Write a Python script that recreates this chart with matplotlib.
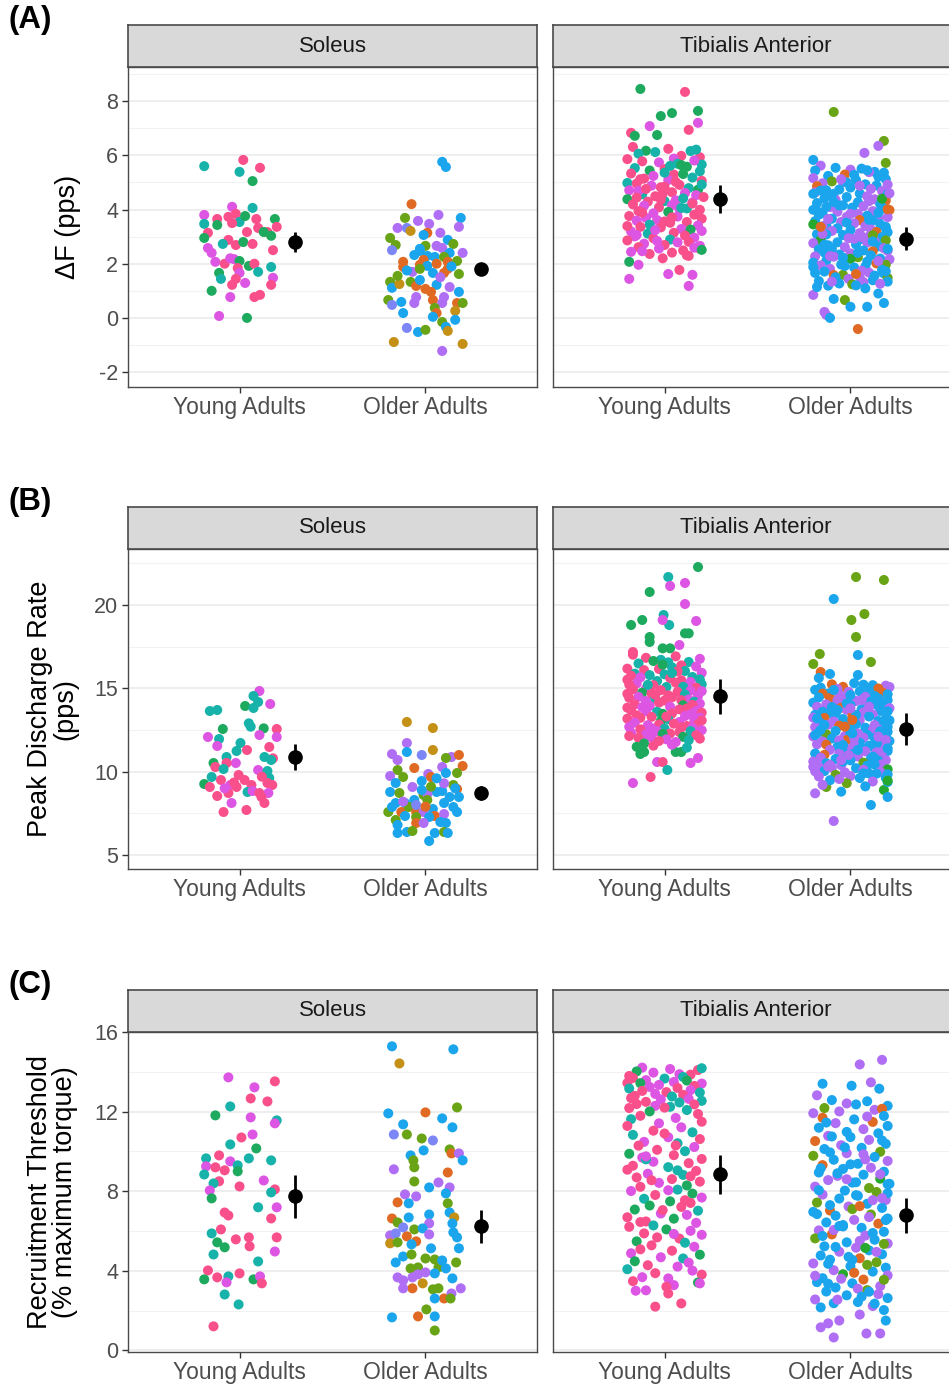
import matplotlib
matplotlib.use('Agg')
import matplotlib.pyplot as plt

plt.rcParams['font.family'] = ['Liberation Sans', 'DejaVu Sans']
plt.rcParams['axes.unicode_minus'] = False

# ---------------- labels ----------------
GROUPS = ['Young Adults', 'Older Adults']
MUSCLES = ['Soleus', 'Tibialis Anterior']
PANEL_TAGS = ['(A)', '(B)', '(C)']
YLABELS = ['ΔF (pps)', 'Peak Discharge Rate\n(pps)', 'Recruitment Threshold\n(% maximum torque)']

# participant colour codes
COLORS = {'p': '#F9508C', 'm': '#DD55E3', 'g': '#1DAA5E', 't': '#17B2A9',
          'b': '#1AA5EC', 'v': '#B06EF5', 'o': '#E06A24', 'l': '#69A416',
          'y': '#C49016', 'w': '#7D86F7', 'G': '#27A92F'}

# ================= (A) Delta F =================
DF_SOL_YA_Y = [5.6,5.83,5.54,5.39,5.05,4.1,4.06,3.8,3.47,3.65,
               3.43,3.73,3.84,3.54,3.76,3.5,3.65,3.32,3.65,3.36,
               3.17,3.03,3.17,3.17,3.14,2.95,2.88,2.73,2.69,2.8,
               2.73,2.58,2.4,2.5,2.07,2.0,2.2,2.17,2.1,1.84,
               1.92,2.0,1.7,1.88,1.66,1.44,1.66,1.44,1.29,1.22,
               1.48,1.22,1.0,0.77,0.77,0.85,0.07,0.0]
DF_SOL_YA_P = "tpptgmtmtp" "gpptgpppgp" "pggppgptpg" "pmmpmpmmgp" "gpttgtmpmp" "mpgmppmg"
DF_SOL_YA_J = [-0.19,0.02,0.11,0.0,0.07,-0.04,0.07,-0.19,-0.19,-0.12,
               -0.12,-0.06,-0.02,0.0,0.03,-0.04,0.09,0.1,0.19,0.2,
               0.15,0.17,0.13,0.04,-0.17,-0.19,-0.06,-0.09,-0.02,0.02,
               0.07,-0.17,-0.15,0.18,-0.13,-0.08,-0.05,-0.03,0.0,-0.01,
               0.05,0.08,0.1,0.17,-0.11,-0.1,0.0,-0.02,0.03,-0.04,
               0.18,0.17,-0.15,-0.05,0.08,0.11,-0.11,0.04]

DF_SOL_OA_Y = [5.76,5.57,4.2,3.69,3.58,3.8,3.69,3.47,3.32,3.32,
               3.21,3.36,3.14,3.14,3.06,2.95,2.69,2.5,2.88,2.73,
               2.66,2.58,2.66,2.32,2.47,2.4,2.4,2.25,2.25,2.29,
               2.07,1.88,2.14,1.96,1.92,2.07,2.1,1.7,1.66,1.81,
               1.81,1.66,1.62,1.33,1.11,1.25,1.33,1.18,1.4,1.22,
               1.14,1.07,0.96,0.96,0.66,0.48,0.59,0.77,0.55,0.66,
               0.77,0.55,0.55,0.55,0.18,0.37,0.18,0.04,0.26,-0.07,
               -0.15,-0.33,-0.48,-0.37,-0.52,-0.44,-0.89,-0.96,-1.22,2.55,
               1.5,1.9,2.0,1.55,1.75]
DF_SOL_OA_P = "bbolvvbvvw" "yvvobllwbl" "vvlbbbvblb" "oooobolvbl" "oollbylobb" "vooblwbvvo" "vvolblobyb" "lbywblyyvb" "vbolb"
DF_SOL_OA_J = [0.09,0.11,-0.075,-0.11,-0.04,0.07,0.19,0.02,-0.15,-0.1,
               -0.08,0.18,0.08,0.01,-0.01,-0.19,-0.16,-0.18,0.12,0.15,
               0.06,0.09,0.0,-0.06,-0.03,0.13,0.2,0.05,0.1,0.01,
               -0.12,-0.12,-0.01,-0.03,0.01,0.12,0.17,-0.07,0.04,-0.03,
               0.12,0.1,0.18,-0.19,-0.18,-0.14,-0.08,-0.05,-0.03,0.06,
               0.13,0.0,0.03,0.18,-0.2,-0.18,-0.13,-0.05,-0.06,0.04,
               0.1,0.09,0.17,0.2,-0.12,0.05,0.06,0.04,0.16,0.16,
               0.09,0.11,0.12,-0.1,-0.04,0.0,-0.17,0.2,0.09,-0.03,
               0.08,0.14,0.06,-0.15,-0.1]

DF_TA_YA_Y = [8.45,8.34,7.45,7.56,7.64,7.2,7.08,6.94,6.83,6.72,6.75,
              2.07,1.96,2.2,2.29,2.55,1.62,1.77,1.59,1.44,1.18,
              6.31,6.17,6.12,6.24,5.98,6.16,5.93,6.06,5.88,6.21,
              5.86,5.78,5.74,5.69,5.58,5.66,5.53,5.49,5.81,5.44,
              5.41,5.33,5.29,5.24,5.18,5.31,5.14,5.09,5.06,4.98,
              4.96,4.88,4.84,4.91,4.79,4.73,4.71,4.82,4.64,4.61,
              4.56,4.49,4.53,4.46,4.38,4.34,4.41,4.29,4.26,4.31,
              4.19,4.14,4.08,4.16,4.04,3.99,3.94,4.02,3.91,3.86,
              3.81,3.76,3.69,3.74,3.66,3.61,3.54,3.59,3.51,3.44,
              3.41,3.36,3.28,3.34,3.26,3.19,3.14,3.21,3.11,3.04,
              3.01,2.94,2.89,2.96,2.86,2.79,2.74,2.81,2.69,2.66,
              2.61,2.56,2.49,2.44,2.41,2.59,2.36,2.51,2.31,2.46,
              5.61,5.12,4.69,4.22,3.89,3.56,3.24,4.44,4.92,5.36,
              4.58,4.06,3.71,3.06,4.36,5.02,5.64,3.39,2.84,4.76]
DF_TA_YA_P = ("gpgggmmppgg" "gmpppmpmmm"
              "pgtpptptmt" "ppmtgttpmg" "tppmtgpmpt" "pmpptgmppm" "tpmpgmtpmt"
              "pmpmtppmgm" "ppmmpmpmpt" "mpmpgmpmtp" "mptmpmmppm" "pmpmpmpgpm"
              "tpmpppmptt" "ptpmppgpmp")
DF_TA_YA_J = [-0.13,0.11,-0.02,0.04,0.18,0.18,-0.08,0.13,-0.18,-0.16,-0.04,
              -0.19,-0.14,-0.01,0.13,0.19,0.02,0.08,0.15,-0.19,0.13,
              -0.17,-0.1,-0.05,0.02,0.09,0.14,0.19,-0.14,0.05,0.17,
              -0.2,-0.12,-0.03,0.07,0.12,0.2,-0.16,0.0,0.16,-0.08,
              0.19,-0.18,0.05,-0.06,0.15,0.1,-0.11,0.02,0.2,-0.2,
              -0.15,-0.07,0.0,0.08,0.13,0.18,-0.19,-0.02,0.04,0.11,
              -0.12,-0.05,0.17,0.21,-0.2,0.06,0.1,-0.09,0.15,0.0,
              -0.17,-0.11,-0.03,0.04,0.12,0.19,-0.14,0.08,0.02,-0.06,
              0.16,-0.19,-0.1,0.07,0.2,-0.04,0.12,-0.15,0.03,-0.08,
              0.18,-0.13,0.09,-0.02,0.14,-0.18,0.05,0.2,-0.09,0.11,
              -0.16,-0.06,0.03,0.16,-0.2,0.07,-0.11,0.13,0.0,0.19,
              -0.14,-0.03,0.1,-0.18,0.04,0.16,-0.08,0.2,0.12,-0.12,
              0.03,-0.13,-0.14,0.15,-0.12,0.0,-0.05,-0.15,0.2,0.0,
              -0.01,0.09,0.04,-0.15,-0.02,0.06,0.09,-0.2,-0.04,-0.1]

DF_TA_OA_Y = [7.6,6.53,6.35,5.72,6.09,5.83,
              0.7,0.66,0.41,0.22,0.11,0.0,0.41,0.55,-0.41,0.9,0.85,
              5.62,5.54,5.47,5.51,5.39,5.44,5.36,5.29,5.38,5.24,
              5.21,5.16,5.09,5.04,5.12,4.97,4.93,5.02,4.89,4.86,
              4.81,4.76,4.71,4.68,4.74,4.59,4.63,4.56,4.58,4.49,
              4.46,4.41,4.38,4.33,4.36,4.27,4.24,4.31,4.19,4.16,
              4.12,4.09,4.04,3.99,4.07,3.94,3.92,3.98,3.87,3.84,
              3.81,3.77,3.73,3.69,3.66,3.72,3.61,3.57,3.6,3.54,
              3.49,3.46,3.43,3.39,3.45,3.36,3.31,3.38,3.27,3.24,
              3.21,3.17,3.13,3.09,3.16,3.06,3.01,3.08,2.98,2.94,
              2.91,2.87,2.84,2.79,2.86,2.76,2.71,2.78,2.68,2.64,
              2.61,2.57,2.53,2.49,2.56,2.46,2.41,2.48,2.38,2.34,
              2.31,2.27,2.24,2.19,2.26,2.16,2.11,2.18,2.08,2.04,
              2.01,1.97,1.94,1.89,1.96,1.86,1.81,1.88,1.78,1.74,
              1.71,1.67,1.64,1.59,1.66,1.56,1.51,1.58,1.48,1.44,
              1.39,1.36,1.32,1.27,1.34,1.24,1.19,1.26,1.14,1.09,
              4.88,4.15,3.52,2.92,2.22,1.62,3.84,4.52,5.28,3.05,
              4.7,4.01,3.3,2.7,2.1,1.5,3.65,4.4,5.0,2.4,
              5.45,4.92,4.28,3.62,3.1,2.55,1.92,1.34,4.6,3.95,
              5.12,4.58,3.88,3.36,2.82,2.28,1.72,1.2,4.1,2.98]
DF_TA_OA_P = ("llvlvb" "blbvvbbbobv"
              "vbvbbbbovb" "bvblbvbvbo" "bvbvbbvbbv" "bbvovbbvbb" "vvbbbvvobv"
              "bbvvbvobbv" "vbbvGbbvvb" "vovbbbvbbv" "bGvblvbvbb" "vvbbbobvvb"
              "bvlbvvbGbb" "obvblbvbbv" "bvblbbvolv" "bbvbblbvbb" "vbbvbovbbl"
              "bobbvbvGbb" "bvbbvbbvvb" "vbbobvbbbv")
DF_TA_OA_J = [-0.09,0.18,0.15,0.19,0.075,-0.2,
              -0.09,-0.03,0.0,-0.14,-0.13,-0.11,0.09,0.18,0.04,0.15,-0.2,
              -0.16,-0.08,0.0,0.06,0.13,-0.19,0.18,-0.03,0.1,-0.12,
              0.15,-0.2,0.03,-0.1,0.19,-0.15,0.08,-0.04,0.14,-0.18,
              0.0,0.11,-0.13,0.17,-0.06,0.05,-0.19,0.2,-0.09,0.09,
              -0.02,-0.14,0.13,0.19,-0.08,0.04,-0.18,0.1,0.16,-0.04,
              0.07,-0.11,0.18,-0.2,0.01,0.12,-0.07,0.21,-0.15,0.04,
              -0.17,0.09,-0.02,0.15,-0.1,0.2,0.05,-0.19,0.12,-0.05,
              0.02,0.16,-0.13,0.08,-0.2,0.19,-0.07,-0.15,0.11,0.0,
              -0.1,0.14,0.05,-0.18,0.2,-0.04,0.1,-0.13,0.17,-0.01,
              0.06,-0.16,0.13,-0.07,0.19,-0.2,0.03,0.09,-0.12,0.15,
              -0.03,0.18,-0.17,0.07,-0.1,0.12,-0.14,0.2,0.0,-0.06,
              0.11,-0.19,0.04,0.16,-0.09,0.21,-0.13,0.0,0.09,-0.2,
              0.14,-0.05,-0.16,0.08,0.19,0.02,-0.11,-0.2,0.17,0.06,
              -0.14,0.1,0.18,-0.04,-0.19,0.13,0.05,-0.09,0.2,-0.01,
              0.12,-0.17,0.07,-0.06,0.2,0.01,-0.12,0.16,-0.18,0.08,
              0.05,-0.06,-0.02,0.02,-0.04,0.03,0.0,-0.1,0.02,0.12,
              -0.16,0.2,0.19,-0.14,0.15,-0.08,-0.12,0.17,-0.02,0.04,
              0.09,0.2,-0.09,0.1,-0.15,0.2,-0.03,-0.1,0.21,-0.18,
              -0.05,-0.2,0.15,-0.16,0.12,-0.11,0.19,0.03,-0.13,0.06]

DF_MEAN = [[2.80, 1.81], [4.39, 2.92]]
DF_ERR = [[0.36, 0.22], [0.50, 0.43]]

# ================= (B) Peak discharge rate =================
PDR_SOL_YA_Y = [14.84,14.54,14.18,14.06,13.64,13.7,13.94,13.82,12.9,12.7,
                12.6,12.56,12.56,12.08,12.2,12.08,11.96,11.54,11.72,11.24,
                11.3,11.48,10.8,10.88,10.88,10.52,10.52,10.52,10.28,10.16,
                10.1,10.04,9.68,9.62,9.8,9.5,9.26,9.08,9.5,9.2,
                9.08,9.2,9.32,9.2,8.72,8.78,8.84,8.72,8.72,8.54,
                8.48,8.12,8.12,7.58,7.7,10.7,9.35,9.0,9.7]
PDR_SOL_YA_P = "mttmttgttt" "ggpmmmtmtt" "pppttgmppt" "mtttppgppm" "ppppptmpmp" "pmppp" "tpmp"
PDR_SOL_YA_J = [0.107,0.075,0.1,0.165,-0.16,-0.12,0.03,0.075,0.05,0.06,
                0.13,-0.09,0.2,0.2,0.107,-0.17,-0.11,-0.12,0.005,-0.016,
                0.04,0.16,0.18,0.134,-0.07,-0.14,-0.02,-0.07,-0.13,-0.086,
                0.1,0.15,-0.15,0.16,-0.005,0.027,-0.19,-0.16,-0.1,-0.05,
                -0.016,0.064,0.15,0.176,-0.06,0.043,0.07,0.107,0.155,-0.12,
                0.118,-0.043,0.134,-0.086,0.037,0.17,-0.03,-0.08,0.12]

PDR_SOL_OA_Y = [12.98,12.62,11.3,11.72,11.18,11.06,11.0,10.88,11.0,10.82,
                10.7,10.34,10.1,10.22,9.86,10.28,9.92,9.92,9.74,9.68,
                9.32,9.44,9.68,9.2,8.96,8.78,8.72,9.08,8.78,8.84,
                8.48,8.48,8.6,8.66,8.3,8.3,8.12,8.12,8.12,7.58,
                7.58,7.88,7.88,7.58,7.58,7.76,7.34,7.46,7.88,7.58,
                7.28,7.1,7.34,7.28,6.92,6.92,6.98,6.92,6.8,6.32,
                6.38,6.44,6.32,6.38,6.32,5.84,8.0,9.3,9.6,8.9,
                9.1,8.2,9.0,7.9]
PDR_SOL_OA_P = "yyyvbvwvol" "volovvblvl" "bboloblvbb" "bblvblbbbo" "lblovbovbb" "llbbovbbbb" "blblbbwvbb" "lvbo"
PDR_SOL_OA_J = [-0.1,0.04,0.04,-0.1,-0.1,-0.18,-0.02,0.14,0.18,0.11,
                -0.15,0.2,-0.15,-0.06,0.015,0.09,0.11,0.17,-0.19,-0.12,
                -0.16,-0.02,0.03,0.15,0.17,-0.19,-0.14,-0.07,0.06,0.09,
                0.13,0.18,-0.01,0.01,-0.06,0.01,0.1,-0.16,-0.11,-0.13,
                -0.2,-0.18,-0.09,-0.05,-0.01,0.04,0.05,0.1,0.15,0.17,
                -0.05,-0.16,-0.11,0.02,-0.05,-0.01,0.08,0.11,-0.15,-0.15,
                -0.1,-0.07,0.05,0.1,0.12,0.02,-0.05,0.1,0.06,-0.02,
                0.03,-0.12,0.16,0.0]

PDR_TA_YA_Y = [22.28,21.68,21.14,21.32,20.78,20.06,18.8,19.1,19.4,18.8,
               19.1,19.04,18.08,17.78,18.3,18.3,17.6,17.4,17.4,17.18,
               11.06,11.18,10.58,10.58,10.52,10.82,10.1,9.68,9.32,11.18,11.18,
               17.02,16.83,16.71,16.92,16.58,16.77,16.49,16.56,16.38,16.64,
               16.31,16.18,16.26,16.09,16.04,16.16,15.93,15.88,16.02,15.84,
               15.79,15.68,15.76,15.61,15.53,15.66,15.49,15.44,15.38,15.52,
               15.34,15.29,15.24,15.19,15.13,15.23,15.08,15.04,14.98,15.09,
               14.94,14.89,14.86,14.79,14.74,14.83,14.69,14.63,14.58,14.67,
               14.54,14.49,14.46,14.39,14.33,14.43,14.29,14.24,14.19,14.27,
               14.14,14.08,14.04,13.98,13.94,14.01,13.89,13.84,13.79,13.87,
               13.74,13.69,13.64,13.59,13.54,13.63,13.49,13.44,13.38,13.47,
               13.34,13.29,13.24,13.18,13.14,13.23,13.09,13.04,12.98,13.07,
               12.94,12.88,12.84,12.79,12.74,12.83,12.69,12.64,12.58,12.67,
               12.54,12.49,12.44,12.38,12.34,12.43,12.29,12.24,12.19,12.27,
               12.14,12.09,12.04,11.98,11.94,12.03,11.89,11.84,11.78,11.69,
               11.62,11.49,11.44,11.56,15.92,14.61,13.31,12.61,16.42,15.21]
PDR_TA_YA_P = ("gtmmgmggtt" "mmggggmggp" "ggmpmmtpmgg"
               "pptptmttpg" "mptptpmtpt" "ttpptmptmp" "pmtpmptpmt" "ppmpgmptpp"
               "mmptmppmtp" "pmpgmpmppm" "ppmtpmpmpg" "mpmptpmgmp" "mppmppmmtp"
               "pmmpmtpmpg" "pgmpmptpmg" "mgtptppmgt")
PDR_TA_YA_J = [0.18,0.02,0.03,0.11,-0.08,0.11,-0.18,-0.12,-0.005,0.025,
               -0.01,0.17,-0.08,-0.08,0.11,0.13,0.08,-0.01,0.03,-0.17,
               -0.13,-0.11,-0.04,-0.01,0.14,0.18,0.015,-0.075,-0.17,0.06,0.09,
               -0.17,-0.1,-0.02,0.06,0.13,0.19,-0.14,0.02,0.09,-0.06,
               0.17,-0.2,0.04,-0.11,0.11,-0.03,0.2,-0.16,0.07,0.0,
               -0.08,0.15,-0.18,0.03,0.19,-0.13,0.09,-0.04,0.14,-0.2,
               0.06,-0.15,0.2,-0.06,0.12,-0.19,0.01,0.17,-0.1,0.1,
               -0.17,-0.02,0.14,0.07,-0.12,0.2,-0.07,0.11,0.02,-0.2,
               0.18,-0.14,0.04,-0.05,0.13,-0.19,0.09,-0.1,0.16,0.0,
               -0.03,0.19,-0.16,0.1,-0.08,0.15,0.03,-0.2,0.12,-0.12,
               0.08,-0.18,0.17,-0.04,0.2,-0.1,0.04,0.14,-0.15,-0.01,
               0.11,-0.07,0.19,-0.2,0.02,-0.13,0.16,-0.02,0.08,0.2,
               -0.16,0.05,0.18,-0.09,0.12,-0.03,-0.19,0.15,0.0,0.09,
               -0.13,0.2,-0.04,0.08,-0.18,0.14,0.03,-0.1,0.17,-0.01,
               -0.19,0.1,-0.07,0.19,0.01,-0.14,0.13,-0.03,0.06,-0.11,
               0.04,-0.15,0.12,-0.06,0.04,-0.05,0.01,-0.07,-0.01,-0.09]

PDR_TA_OA_Y = [21.68,21.5,20.36,19.1,19.46,18.08,17.0,17.06,16.46,16.58,15.8,15.98,15.62,15.86,
               9.08,8.0,7.04,8.9,8.48,9.38,8.7,8.8,
               15.31,15.24,15.19,15.16,15.09,15.22,15.04,14.99,14.96,15.08,
               14.91,14.84,14.79,14.76,14.69,14.82,14.64,14.61,14.54,14.68,
               14.49,14.46,14.39,14.36,14.29,14.42,14.24,14.21,14.14,14.28,
               14.11,14.04,13.99,13.96,13.89,14.02,13.84,13.81,13.74,13.88,
               13.71,13.64,13.59,13.56,13.49,13.62,13.44,13.41,13.34,13.48,
               13.31,13.24,13.19,13.16,13.09,13.22,13.04,13.01,12.94,13.08,
               12.91,12.84,12.79,12.76,12.69,12.82,12.64,12.61,12.54,12.68,
               12.51,12.44,12.39,12.36,12.29,12.42,12.24,12.21,12.14,12.28,
               12.11,12.04,11.99,11.96,11.89,12.02,11.84,11.81,11.74,11.88,
               11.71,11.64,11.59,11.56,11.49,11.62,11.44,11.41,11.34,11.48,
               11.31,11.24,11.19,11.16,11.09,11.22,11.04,11.01,10.94,11.08,
               10.91,10.84,10.79,10.76,10.69,10.82,10.64,10.61,10.54,10.68,
               10.51,10.44,10.39,10.36,10.29,10.42,10.24,10.21,10.14,10.28,
               10.11,10.04,9.99,9.96,9.89,10.02,9.84,9.81,9.74,9.88,
               9.71,9.62,9.49,9.41,9.31,9.63,9.21,9.46,9.12,9.56,
               14.1,13.4,12.7,12.0,11.3,10.6,13.8,12.3,11.0,14.6,
               14.3,13.2,12.1,11.6,10.9,10.3,12.9,13.7,11.2,12.5,
               14.9,13.9,12.8,11.9,10.7,9.9,13.1,12.2,11.4,10.4]
PDR_TA_OA_P = ("llblllblllbobb" "lbvGbbvb"
               "bobvobbovv" "bbvobbbvbo" "vbbvbovbbv" "bvbbvbovbb" "vbbvbbvbob"
               "bvbbvobvbb" "bbvobvbbvv" "vbbbvblbvb" "vvbbobbvbv" "bvvbbovbvb"
               "vbbvbvbobv" "vvbbvbbvlb" "bvvbvbvbGv" "vbvvbvblvb" "vbbvlbvGbv"
               "bbovbbvbvb" "vbvbbvbbvb" "bvbvvbobbv")
PDR_TA_OA_J = [0.03,0.18,-0.09,0.005,0.075,0.03,0.04,-0.165,-0.2,0.11,0.04,-0.16,-0.17,-0.11,
               -0.13,0.11,-0.09,0.18,0.2,0.2,-0.19,-0.05,
               0.02,-0.1,0.12,0.19,-0.04,0.07,-0.16,0.15,-0.07,0.21,
               -0.19,0.1,-0.01,0.17,-0.12,0.05,0.2,-0.06,0.13,-0.15,
               0.08,-0.17,0.15,-0.03,0.2,-0.11,0.03,0.11,-0.2,-0.07,
               0.18,-0.13,0.0,0.09,-0.18,0.14,-0.05,0.21,0.06,-0.1,
               -0.02,0.16,-0.15,0.07,-0.08,0.2,0.12,-0.19,0.01,-0.12,
               0.1,-0.2,0.19,-0.04,0.05,-0.14,0.15,-0.09,0.0,0.21,
               -0.16,0.03,0.13,-0.06,0.2,-0.12,0.08,-0.01,0.17,-0.19,
               0.12,-0.08,0.2,-0.17,0.04,0.16,-0.13,0.09,-0.03,0.0,
               -0.2,0.07,-0.1,0.18,-0.02,0.13,0.21,-0.15,0.05,-0.06,
               0.15,-0.18,0.02,0.1,-0.07,-0.13,0.19,0.06,-0.01,0.12,
               -0.11,0.2,-0.04,0.14,-0.19,0.08,0.01,-0.14,0.17,-0.06,
               0.04,-0.16,0.11,-0.08,0.19,-0.02,0.15,-0.2,0.07,0.0,
               -0.13,0.17,-0.05,0.09,-0.2,0.13,-0.1,0.03,0.2,-0.17,
               0.07,-0.14,0.16,-0.03,0.1,-0.19,0.2,-0.08,0.0,0.14,
               -0.17,0.05,-0.11,0.12,-0.02,0.19,-0.15,0.2,0.08,-0.06,
               -0.02,0.03,-0.03,0.02,0.04,-0.04,0.0,0.01,-0.01,0.0,
               0.06,-0.18,0.15,-0.04,0.12,-0.12,0.19,-0.07,0.17,-0.16,
               -0.09,0.1,-0.14,0.19,-0.05,0.07,0.01,-0.19,0.2,-0.11]

PDR_MEAN = [[10.88, 8.72], [14.54, 12.56]]
PDR_ERR = [[0.78, 0.42], [1.05, 0.95]]

# ================= (C) Recruitment threshold =================
RT_SOL_YA_Y = [13.72,13.22,13.52,12.66,12.51,12.26,11.81,11.71,11.56,11.41,
               10.85,10.7,10.35,10.15,9.65,9.8,9.65,9.5,9.55,9.25,
               9.2,9.05,9.3,9.0,8.84,8.5,8.39,8.24,8.54,8.09,
               8.04,7.94,7.64,7.19,7.19,6.93,6.78,6.63,6.08,5.88,
               5.43,5.58,5.68,5.23,5.18,5.68,4.97,4.82,4.47,4.02,
               3.57,3.67,3.72,3.42,3.87,3.57,3.72,3.37,2.81,2.31,
               1.21]
RT_SOL_YA_P = "mmppptgmtm" "mptgtptmtm" "pptgtptpmp" "mtgmtppppt" "gpppgpmttp" "gptmpgmptt" "p"
RT_SOL_YA_J = [-0.06,0.08,0.19,0.06,0.15,-0.05,-0.13,0.06,0.2,0.19,
               0.07,0.01,-0.05,0.09,-0.18,-0.11,0.05,-0.05,0.17,-0.18,
               -0.13,-0.08,-0.01,-0.01,-0.19,-0.11,-0.14,0.0,0.13,0.19,
               -0.16,0.17,-0.15,0.2,0.1,-0.08,-0.06,0.17,-0.1,-0.15,
               -0.12,-0.02,0.05,0.054,-0.08,0.2,0.19,-0.14,0.1,-0.17,
               -0.19,-0.12,-0.06,-0.07,0.0,0.075,0.11,0.12,-0.08,-0.005,
               -0.14]

RT_SOL_OA_Y = [15.28,15.13,14.42,12.21,11.91,11.96,11.66,11.21,11.36,10.85,
               10.85,10.65,10.55,10.05,10.1,9.9,9.9,9.55,9.8,9.55,
               9.2,9.1,8.94,8.49,8.44,8.19,8.19,7.89,7.84,7.74,
               7.44,7.39,7.39,6.83,6.68,6.93,6.68,6.63,6.43,6.38,
               6.18,6.38,6.08,6.13,5.93,5.78,5.88,5.73,5.48,5.83,
               5.38,5.43,5.68,5.13,5.13,5.33,4.42,4.72,4.82,4.62,
               4.57,4.17,4.52,4.42,4.12,4.17,3.67,3.52,3.67,3.82,
               3.92,3.87,4.12,3.62,3.37,3.12,3.07,3.12,2.61,2.61,
               2.86,3.12,2.61,3.12,2.06,1.66,1.71,1.71,1.0]
RT_SOL_OA_P = "bbylbobbbw" "llwblovbbl" "lvolvvbbvv" "oblbbbyolb" "wvlbbvwoov" "ylbbbbbbll" "llblllvvvv" "vbbbyollob" "vvlvlbobl"
RT_SOL_OA_J = [-0.18,0.15,-0.14,0.17,-0.2,0.0,0.09,0.145,-0.12,-0.17,
               -0.1,-0.02,0.04,-0.01,0.13,0.14,0.18,0.2,-0.08,-0.065,
               -0.06,-0.17,0.12,-0.06,0.07,0.13,0.02,0.11,-0.11,-0.05,
               -0.15,-0.09,0.12,0.02,-0.09,0.13,0.155,-0.18,-0.15,0.145,
               -0.12,0.02,-0.06,-0.015,0.15,-0.19,-0.16,-0.1,-0.05,0.02,
               -0.19,-0.15,0.17,0.18,0.03,-0.075,-0.16,-0.12,-0.075,0.0,
               0.05,0.07,0.09,0.165,-0.08,-0.04,-0.15,-0.12,-0.07,-0.04,
               0.0,0.05,0.11,0.145,-0.015,-0.07,0.04,0.07,0.1,0.05,
               0.14,0.19,0.135,-0.12,0.005,-0.18,-0.04,0.05,0.05]

RT_TA_YA_Y = [14.21,14.14,14.09,14.18,13.96,13.88,14.02,13.86,13.79,13.74,
              13.69,13.58,13.66,13.49,13.56,13.44,13.41,13.34,13.29,13.43,
              13.24,13.19,13.16,13.08,13.04,12.98,12.96,12.89,12.84,12.79,
              12.76,12.68,12.64,12.61,12.54,12.49,12.46,12.38,12.36,12.29,
              12.24,12.18,12.08,12.01,11.88,11.79,11.68,11.62,11.49,11.41,
              11.28,11.21,11.04,10.96,10.83,10.71,10.62,10.48,10.41,10.29,
              10.22,10.08,10.01,9.88,9.81,9.69,9.62,9.48,9.41,9.28,
              9.21,9.08,9.02,8.88,8.82,8.69,8.61,8.48,8.42,8.29,
              8.22,8.08,8.01,7.88,7.81,7.68,7.62,7.49,7.41,7.28,
              7.21,7.08,7.02,6.88,6.81,6.69,6.62,6.48,6.41,6.28,
              6.21,6.08,6.01,5.88,5.81,5.68,5.62,5.48,5.41,5.28,
              5.21,5.08,5.01,4.88,4.81,4.68,4.62,4.48,4.41,4.28,
              4.21,4.08,4.01,3.88,3.81,3.68,3.62,3.48,3.41,3.28,
              3.0,3.02,3.2,2.86,3.37,2.2,2.36,8.75,9.6,12.2,
              10.9,10.3,9.75,9.05,8.55,8.05,7.55,7.05,6.45,5.85]
RT_TA_YA_P = ("mmptmmgppt" "pmtmgpmmpg" "mptmpptmpp" "tpmmtptppm" "tptgppmtpm"
              "pmpttmpmtp" "mptgpmpmpp" "tppmtpppmg" "ptmgpmtgpg" "pgtmmpgpmt"
              "pgmpmppgtp" "mppmgmtgmp" "mtmppmmpgm" "mmppmppptp" "ppmtpmpppm")
RT_TA_YA_J = [-0.12,0.03,0.18,0.2,-0.06,0.08,-0.15,0.14,-0.19,0.1,
              -0.17,-0.1,0.0,0.05,0.12,-0.2,0.2,-0.03,0.16,-0.13,
              -0.08,0.07,-0.19,0.14,-0.12,0.01,0.19,-0.05,0.1,-0.16,
              0.04,-0.18,0.13,-0.02,0.2,-0.1,0.08,-0.15,0.16,-0.05,
              0.03,-0.19,0.12,-0.08,0.18,-0.13,0.06,-0.18,0.2,-0.03,
              -0.2,0.09,-0.06,0.15,-0.17,0.02,0.19,-0.11,0.07,-0.14,
              0.16,-0.04,0.11,-0.19,0.05,-0.12,0.2,-0.06,0.13,-0.17,
              0.02,-0.2,0.17,-0.09,0.1,-0.15,0.04,0.19,-0.03,0.12,
              -0.13,0.07,-0.18,0.15,-0.05,0.2,-0.11,0.03,0.14,-0.08,
              0.09,-0.16,0.18,-0.02,0.12,-0.2,0.05,-0.1,0.17,-0.06,
              -0.19,0.01,0.14,-0.11,0.2,-0.04,0.08,-0.15,0.11,-0.07,
              0.16,-0.13,0.04,-0.18,0.19,-0.02,0.1,-0.16,0.13,-0.09,
              0.07,-0.2,0.15,-0.05,0.2,-0.12,0.02,-0.17,0.18,0.05,
              -0.155,-0.1,0.01,0.02,0.19,-0.05,0.09,0.14,-0.1,0.0,
              0.0,0.06,-0.1,0.07,-0.07,0.02,0.11,-0.01,-0.13,0.05]

RT_TA_OA_Y = [14.6,14.37,13.4,13.3,13.47,13.15,
              1.16,1.36,0.65,1.5,0.85,0.85,1.8,1.5,
              12.82,12.58,12.41,12.52,12.29,12.18,12.36,12.09,12.01,12.14,
              11.92,11.78,11.69,11.61,11.48,11.42,11.28,11.19,11.12,10.98,
              10.91,10.78,10.72,10.58,10.52,10.38,10.31,10.18,10.12,9.98,
              9.91,9.78,9.72,9.58,9.52,9.38,9.31,9.18,9.12,8.98,
              8.94,8.83,8.77,8.63,8.56,8.43,8.37,8.23,8.16,8.03,
              7.96,7.83,7.77,7.63,7.56,7.43,7.37,7.23,7.16,7.03,
              6.96,6.83,6.77,6.63,6.56,6.43,6.37,6.23,6.16,6.03,
              5.96,5.83,5.77,5.63,5.56,5.43,5.37,5.23,5.16,5.03,
              4.96,4.83,4.77,4.63,4.56,4.43,4.37,4.23,4.16,4.03,
              3.96,3.83,3.77,3.63,3.56,3.43,3.37,3.23,3.16,3.03,
              2.96,2.83,2.77,2.63,2.56,2.43,2.37,2.23,2.16,2.03,
              9.35,8.6,7.8,7.1,6.3,5.5,4.7,3.9,3.1,10.2,
              9.6,8.9,7.3,6.7,5.9,5.2,4.3,3.6,2.7,7.9,
              11.45,10.55,9.85,9.15,8.35,7.55,6.85,6.05,5.35,4.55,
              3.75,2.95,3.35,4.95,5.75,6.55,7.25,8.05,8.85,9.95,
              2.35,2.55,3.55,4.35,5.15,6.25,7.65,8.45,10.75,11.75]
RT_TA_OA_P = ("vvbbvb" "vvvvvvvb"
              "vbvbblbvvo" "vbobovbbvb" "bvbvobvbbl" "vlbbvbovbb" "bbvGvbbvlb"
              "lvbbvlbvbo" "blbbvbobbv" "bovlbbvbvb" "vbboblvbbv" "bGvbobbvbl"
              "bvbbvbbvbb" "bvblbvbovb" "vbbvbblvbb" "bbvbbvbvlb" "vbbvbbobvb"
              "bvlbGbvbbv")
RT_TA_OA_J = [0.17,0.05,-0.15,0.006,0.11,0.155,
              -0.16,-0.12,-0.09,-0.06,0.086,0.16,0.05,0.19,
              -0.18,-0.1,-0.02,0.09,0.2,-0.14,0.03,0.13,-0.06,0.17,
              -0.2,0.18,-0.15,0.02,0.12,-0.08,0.2,-0.17,0.07,-0.02,
              0.15,-0.12,0.0,0.1,-0.19,0.19,-0.05,0.06,-0.14,0.16,
              -0.02,-0.2,0.13,-0.09,0.2,0.04,-0.15,0.11,-0.04,0.18,
              -0.17,0.07,-0.07,0.16,-0.12,0.01,0.21,-0.19,0.1,-0.03,
              0.14,-0.15,0.04,-0.06,0.19,-0.18,0.09,-0.01,0.17,-0.11,
              -0.2,0.11,-0.08,0.2,0.02,-0.13,0.15,-0.04,0.06,-0.17,
              0.18,-0.1,0.08,-0.19,0.13,-0.02,0.2,-0.14,0.03,0.1,
              -0.06,0.17,-0.16,0.05,-0.11,0.14,-0.2,0.0,0.19,-0.09,
              0.12,-0.04,0.2,-0.15,0.07,-0.18,0.01,0.16,-0.08,0.09,
              -0.13,0.15,-0.02,0.2,-0.19,0.04,-0.09,0.12,-0.16,0.18,
              0.0,-0.02,0.03,0.01,-0.04,0.05,-0.01,0.02,0.04,-0.03,
              0.08,-0.07,-0.11,0.1,0.12,-0.08,0.09,-0.05,0.06,0.2,
              -0.13,0.17,0.07,-0.16,0.2,0.12,-0.18,-0.09,0.18,0.01,
              -0.19,0.1,-0.12,0.14,-0.15,0.19,0.05,-0.17,0.16,-0.11,
              0.13,-0.07,0.18,-0.12,0.08,-0.06,0.17,0.03,-0.1,0.09]

RT_MEAN = [[7.74, 6.23], [8.84, 6.78]]
RT_ERR = [[1.08, 0.85], [1.0, 0.9]]

# ---------------- structure ----------------
METRICS = [
    dict(data=[[(DF_SOL_YA_Y, DF_SOL_YA_J, DF_SOL_YA_P), (DF_SOL_OA_Y, DF_SOL_OA_J, DF_SOL_OA_P)],
               [(DF_TA_YA_Y, DF_TA_YA_J, DF_TA_YA_P), (DF_TA_OA_Y, DF_TA_OA_J, DF_TA_OA_P)]],
         mean=DF_MEAN, err=DF_ERR, ylim=(-2.55, 9.26),
         major=[-2, 0, 2, 4, 6, 8], minor=[-1, 1, 3, 5, 7, 9]),
    dict(data=[[(PDR_SOL_YA_Y, PDR_SOL_YA_J, PDR_SOL_YA_P), (PDR_SOL_OA_Y, PDR_SOL_OA_J, PDR_SOL_OA_P)],
               [(PDR_TA_YA_Y, PDR_TA_YA_J, PDR_TA_YA_P), (PDR_TA_OA_Y, PDR_TA_OA_J, PDR_TA_OA_P)]],
         mean=PDR_MEAN, err=PDR_ERR, ylim=(4.16, 23.36),
         major=[5, 10, 15, 20], minor=[7.5, 12.5, 17.5, 22.5]),
    dict(data=[[(RT_SOL_YA_Y, RT_SOL_YA_J, RT_SOL_YA_P), (RT_SOL_OA_Y, RT_SOL_OA_J, RT_SOL_OA_P)],
               [(RT_TA_YA_Y, RT_TA_YA_J, RT_TA_YA_P), (RT_TA_OA_Y, RT_TA_OA_J, RT_TA_OA_P)]],
         mean=RT_MEAN, err=RT_ERR, ylim=(-0.08, 16.0),
         major=[0, 4, 8, 12, 16], minor=[2, 6, 10, 14]),
]

# ---------------- layout (pixels) ----------------
W, H = 949, 1387
ROWS = [(25, 67, 387), (507, 549, 869), (990, 1032, 1352)]
COLS = [(128, 537), (553, 962)]
MEAN_OFFSET = 0.30

fig = plt.figure(figsize=(W / 100, H / 100), dpi=100)


def rect(x0, y0, x1, y1):
    return [x0 / W, 1 - y1 / H, (x1 - x0) / W, (y1 - y0) / H]


BORDER = '#4a4a4a'
for r, (st, pt, pb) in enumerate(ROWS):
    m = METRICS[r]
    for c, (cx0, cx1) in enumerate(COLS):
        ax = fig.add_axes(rect(cx0, pt, cx1, pb))
        ax.set_xlim(0.4, 2.6)
        ax.set_ylim(*m['ylim'])
        ax.set_yticks(m['major'])
        ax.set_yticks(m['minor'], minor=True)
        ax.grid(which='major', axis='y', color='#EBEBEB', lw=1.2)
        ax.grid(which='minor', axis='y', color='#F2F2F2', lw=0.8)
        ax.set_axisbelow(True)
        ax.set_xticks([1, 2])
        ax.set_xticklabels(GROUPS)
        for sp in ax.spines.values():
            sp.set_color(BORDER)
            sp.set_linewidth(1.0)
        ax.tick_params(which='major', length=4, width=1.0, color='#333333',
                       labelcolor='#4D4D4D', labelsize=15.5, pad=3)
        ax.tick_params(axis='x', which='major', labelsize=16.5, pad=2.5)
        ax.tick_params(which='minor', length=0)
        if c == 1:
            ax.tick_params(axis='y', which='both', left=False, labelleft=False)

        for g in range(2):
            ys, js, ps = m['data'][c][g]
            xs = [g + 1 + j for j in js]
            cols = [COLORS[k] for k in ps]
            n = min(len(xs), len(ys), len(cols))
            ax.scatter(xs[:n], ys[:n], s=52, c=cols[:n], linewidths=0, zorder=2)
            ax.errorbar([g + 1 + MEAN_OFFSET], [m['mean'][c][g]], yerr=[m['err'][c][g]],
                        fmt='o', color='black', ms=9.5, elinewidth=2.0, capsize=0, zorder=4)

        sax = fig.add_axes(rect(cx0, st, cx1, pt))
        sax.set_facecolor('#D9D9D9')
        sax.set_xticks([])
        sax.set_yticks([])
        for sp in sax.spines.values():
            sp.set_color(BORDER)
            sp.set_linewidth(1.2)
        sax.text(0.5 if c == 0 else (756 - cx0) / (cx1 - cx0), 0.5, MUSCLES[c],
                 transform=sax.transAxes, ha='center', va='center',
                 fontsize=16, color='#1A1A1A')

    # y-axis title
    yc = 1 - ((pt + pb) / 2) / H
    fig.text((68 if r == 0 else 53) / W, yc, YLABELS[r], rotation=90, ha='center', va='center',
             fontsize=19.5, color='black', multialignment='center', linespacing=0.95)
    # panel tag
    fig.text(8 / W, 1 - (st - 5) / H, PANEL_TAGS[r], ha='left', va='center',
             fontsize=22.5, fontweight='bold', color='black')

fig.savefig('out.png', dpi=100)
